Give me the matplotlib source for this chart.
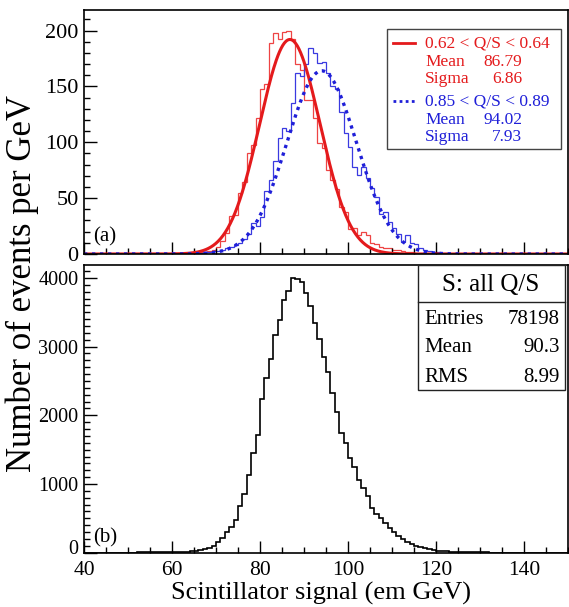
import numpy as np
import matplotlib
matplotlib.use("Agg")
import matplotlib.pyplot as plt
from matplotlib.ticker import MultipleLocator
from matplotlib.lines import Line2D
from matplotlib.patches import Rectangle
from matplotlib.transforms import ScaledTranslation

plt.rcParams['font.family'] = ['Liberation Serif', 'DejaVu Serif']
plt.rcParams['mathtext.fontset'] = 'stix'

# ---------------- data (1 GeV bins) ----------------
bin_lo, bin_hi = 40, 150

# top panel: 0.62 < Q/S < 0.64 (red), first bin starts at red_start
red_start = 60
red_counts = [1, 0, 1, 0, 1, 1, 2, 2, 3, 4,
              6, 12, 19, 34, 35, 55, 64, 90, 98, 122,
              148, 152, 189, 198, 192, 199, 200, 192, 170, 165,
              138, 138, 122, 99, 95, 75, 66, 58, 42, 38,
              22, 23, 17, 20, 17, 10, 9, 6, 5, 5,
              4, 4, 3, 2, 2, 1]

# top panel: 0.85 < Q/S < 0.89 (blue)
blue_start = 60
blue_counts = [1, 0, 1, 0, 0, 1, 1, 2, 2, 3,
               3, 4, 5, 6, 8, 10, 13, 18, 28, 25,
               33, 56, 66, 83, 104, 113, 110, 135, 162, 159,
               170, 184, 180, 171, 172, 162, 150, 148, 127, 108,
               96, 78, 71, 78, 68, 59, 51, 36, 38, 29,
               23, 18, 11, 17, 10, 9, 5, 4, 3, 2,
               2, 1, 1, 0, 1]

# Gaussian fits (amplitude, mean, sigma)
red_fit = (192.0, 86.79, 6.86)
blue_fit = (164.0, 94.02, 7.93)

# bottom panel: all Q/S
all_start = 50
all_counts = [2, 2, 3, 3, 4, 4, 5, 5, 7, 8,
              10, 12, 14, 17, 20, 28, 38, 50, 70, 95,
              150, 210, 300, 380, 480, 680, 860, 1135, 1458, 1710,
              2240, 2550, 2825, 3169, 3387, 3685, 3809, 3994, 3980, 3945,
              3775, 3596, 3350, 3110, 2853, 2635, 2320, 2053, 1738, 1592,
              1374, 1252, 1058, 937, 830, 650, 570, 500, 430, 360,
              300, 250, 200, 160, 130, 100, 80, 62, 48, 38,
              30, 24, 19, 15, 12, 10, 8, 6, 5, 4,
              3, 3, 2, 2, 1, 1]

red_label = "0.62 < Q/S < 0.64"
blue_label = "0.85 < Q/S < 0.89"
red_stats = [("Mean", "86.79"), ("Sigma", "6.86")]
blue_stats = [("Mean", "94.02"), ("Sigma", "7.93")]
box_title = "S: all Q/S"
box_stats = [("Entries", "78198"), ("Mean", "90.3"), ("RMS", "8.99")]
xlabel = "Scintillator signal (em GeV)"
ylabel = "Number of events per GeV"


def full(start, counts):
    edges = np.arange(bin_lo, bin_hi + 1)
    vals = np.zeros(len(edges) - 1)
    i0 = start - bin_lo
    vals[i0:i0 + len(counts)] = counts
    return vals, edges


W, H = 569, 607
fig = plt.figure(figsize=(W / 100, H / 100), dpi=100)


def fx(x):
    return x / W


def fy(y):
    return 1 - y / H


left, right = 84, 568
ax1 = fig.add_axes([fx(left), fy(254), (right - left) / W, (254 - 10) / H])
ax2 = fig.add_axes([fx(left), fy(552.7), (right - left) / W, (552.7 - 265) / H])

RED = '#e41a1c'
BLUE = '#1f1fd8'

v, e = full(red_start, red_counts)
ax1.stairs(v, e, color='#ee4444', lw=0.9)
v, e = full(blue_start, blue_counts)
ax1.stairs(v, e, color='#3a3ae0', lw=0.9)

xf = np.linspace(bin_lo, bin_hi, 600)
a, m, s = red_fit
ax1.plot(xf, a * np.exp(-0.5 * ((xf - m) / s) ** 2), color=RED, lw=2.2)
a, m, s = blue_fit
ax1.plot(xf, a * np.exp(-0.5 * ((xf - m) / s) ** 2), color=BLUE, lw=2.4,
         linestyle=(0, (1, 1.4)))

v, e = full(all_start, all_counts)
ax2.stairs(v, e, color='black', lw=1.2)

ax1.set_xlim(bin_lo, bin_hi)
ax2.set_xlim(bin_lo, bin_hi)
ax1.set_ylim(0, 218.4)
ax2.set_ylim(0, 4188)

for ax in (ax1, ax2):
    ax.xaxis.set_major_locator(MultipleLocator(20))
    ax.xaxis.set_minor_locator(MultipleLocator(5))
    ax.tick_params(which='both', direction='in', top=False, right=False)
    ax.tick_params(which='major', length=9, width=1)
    ax.tick_params(which='minor', length=4.5, width=1)
    for sp in ax.spines.values():
        sp.set_linewidth(1.2)

ax1.yaxis.set_major_locator(MultipleLocator(50))
ax1.yaxis.set_minor_locator(MultipleLocator(10))
ax2.yaxis.set_major_locator(MultipleLocator(1000))
ax2.yaxis.set_minor_locator(MultipleLocator(100))
ax1.tick_params(axis='x', labelbottom=False)
ax1.tick_params(axis='y', labelsize=16, pad=4)
ax2.tick_params(axis='y', labelsize=14.5, pad=4)
ax2.tick_params(axis='x', labelsize=15.5, pad=6)

ax1.text(0.018, 0.07, "(a)", transform=ax1.transAxes, fontsize=15, va='center', ha='left')
ax2.text(0.018, 0.053, "(b)", transform=ax2.transAxes, fontsize=15, va='center', ha='left')

fig.text(fx(321), fy(593), xlabel, fontsize=19, ha='center', va='center')
fig.text(fx(22), fy(284), ylabel, fontsize=25, ha='center', va='center', rotation=90)

# ---- top legend box ----
fig.add_artist(Rectangle((fx(387), fy(149)), (561 - 387) / W, (149 - 29) / H,
                         transform=fig.transFigure, fill=True, facecolor='white',
                         edgecolor='#444444', lw=1.0))
fig.add_artist(Line2D([fx(393), fx(415)], [fy(43), fy(43)], color=RED, lw=2.0))
fig.add_artist(Line2D([fx(393), fx(415)], [fy(101), fy(101)], color=BLUE, lw=2.0,
                      linestyle=(0, (1, 1.2))))
fs = 12.5
fig.text(fx(425), fy(43), red_label, color=RED, fontsize=fs, va='center', ha='left')
for (k, val), y in zip(red_stats, (62, 79)):
    fig.text(fx(425), fy(y), k, color=RED, fontsize=fs, va='center', ha='left')
    fig.text(fx(522), fy(y), val, color=RED, fontsize=fs, va='center', ha='right')
fig.text(fx(425), fy(101), blue_label, color=BLUE, fontsize=fs, va='center', ha='left')
for (k, val), y in zip(blue_stats, (120, 137)):
    fig.text(fx(425), fy(y), k, color=BLUE, fontsize=fs, va='center', ha='left')
    fig.text(fx(522), fy(y), val, color=BLUE, fontsize=fs, va='center', ha='right')

# ---- bottom stats box ----
fig.add_artist(Rectangle((fx(418), fy(390)), (565 - 418) / W, (390 - 265) / H,
                         transform=fig.transFigure, facecolor='white',
                         edgecolor='#222222', lw=1.0))
fig.add_artist(Line2D([fx(418), fx(565)], [fy(302), fy(302)], color='#222222', lw=1.0))
fig.text(fx(491), fy(285), box_title, fontsize=18, ha='center', va='center')
for (k, val), y in zip(box_stats, (319, 348, 377)):
    fig.text(fx(424), fy(y), k, fontsize=15, ha='left', va='center')
    fig.text(fx(560), fy(y), val, fontsize=15, ha='right', va='center')

# lift the lowest y label of the bottom panel slightly (as in the reference)
fig.canvas.draw()
for tick in ax2.yaxis.get_major_ticks():
    if abs(tick.get_loc()) < 1e-9:
        tick.label1.set_transform(tick.label1.get_transform()
                                  + ScaledTranslation(0, 4 / 72, fig.dpi_scale_trans))

fig.savefig("out.png", dpi=100)
